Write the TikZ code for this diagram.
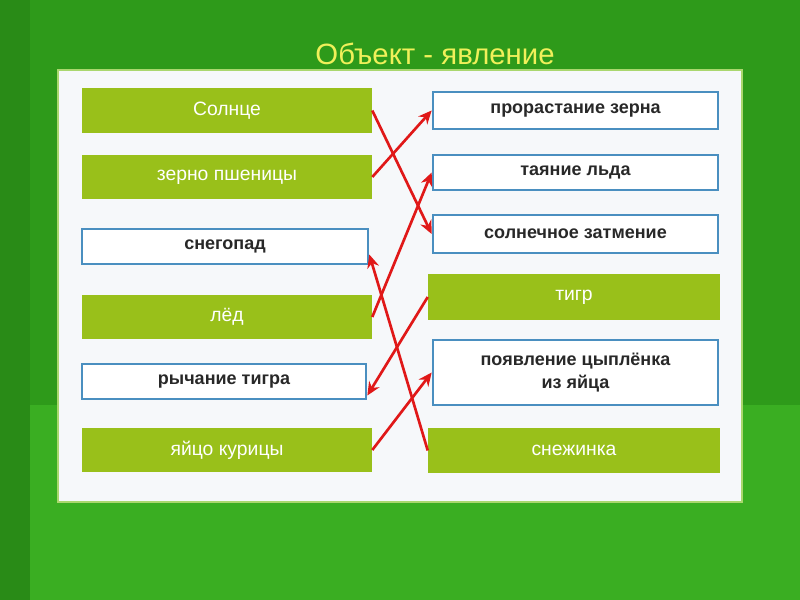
\documentclass[tikz,border=0pt]{standalone}
\usepackage{fontspec}
\setmainfont{Liberation Sans}
\usetikzlibrary{arrows.meta}
\definecolor{bg}{HTML}{2E9A1A}
\definecolor{bgl}{HTML}{3AAE22}
\definecolor{olive}{HTML}{99C01A}
\definecolor{bluebd}{HTML}{4A8FC0}
\definecolor{arr}{HTML}{E01818}
\tikzset{
 gbox/.style={fill=olive,draw=none,text=white,font=\fontsize{14.5}{17}\selectfont},
 wbox/.style={fill=white,draw=bluebd,line width=2pt,text={rgb,255:red,40;green,40;blue,40},font=\bfseries\fontsize{13.5}{17}\selectfont,align=center},
 link/.style={draw=arr,line width=2pt,-{Stealth[length=10pt,width=9pt]}}
}
\newcommand{\bx}[6]{\node[#1,minimum width={(#4-#3)*0.75pt},minimum height={(#6-#5)*0.75pt},inner sep=0pt] (#2) at ({(#3+#4)/2},{(#5+#6)/2})}
\begin{document}
\begin{tikzpicture}[x=0.75pt,y=-0.75pt]
\fill[bg] (0,0) rectangle (800,600);
\fill[bgl] (30,405) rectangle (800,600);
\fill[bg!90!black] (0,0) rectangle (30,600);
\node[text={rgb,255:red,240;green,240;blue,90},font=\fontsize{22}{26}\selectfont] (title) at (435,54) {Объект - явление};
\filldraw[fill={rgb,255:red,246;green,248;blue,250},draw={rgb,255:red,170;green,215;blue,110},line width=2pt] (58,70) rectangle (742,502);
\bx{gbox}{a1}{82}{372}{88}{133} {Солнце};
\bx{gbox}{a2}{82}{372}{155}{199} {зерно пшеницы};
\bx{wbox}{a3}{82}{368}{229}{264} {снегопад};
\bx{gbox}{a4}{82}{372}{295}{339} {лёд};
\bx{wbox}{a5}{82}{366}{364}{399} {рычание тигра};
\bx{gbox}{a6}{82}{372}{428}{472} {яйцо курицы};
\bx{wbox}{b1}{433}{718}{92}{129} {прорастание зерна};
\bx{wbox}{b2}{433}{718}{155}{190} {таяние льда};
\bx{wbox}{b3}{433}{718}{215}{253} {солнечное затмение};
\bx{gbox}{b4}{428}{720}{274}{320} {тигр};
\bx{wbox}{b5}{433}{718}{340}{405} {появление цыплёнка\\из яйца};
\bx{gbox}{b6}{428}{720}{428}{473} {снежинка};
\draw[link] (a1.east) -- (b3.west);
\draw[link] (a2.east) -- (b1.west);
\draw[link] (a4.east) -- (b2.west);
\draw[link] (b4.west) -- ([yshift=-0.75pt*14]a5.east);
\draw[link] (a6.east) -- (b5.west);
\draw[link] (b6.west) -- ([yshift=-0.75pt*8]a3.east);
\end{tikzpicture}
\end{document}
